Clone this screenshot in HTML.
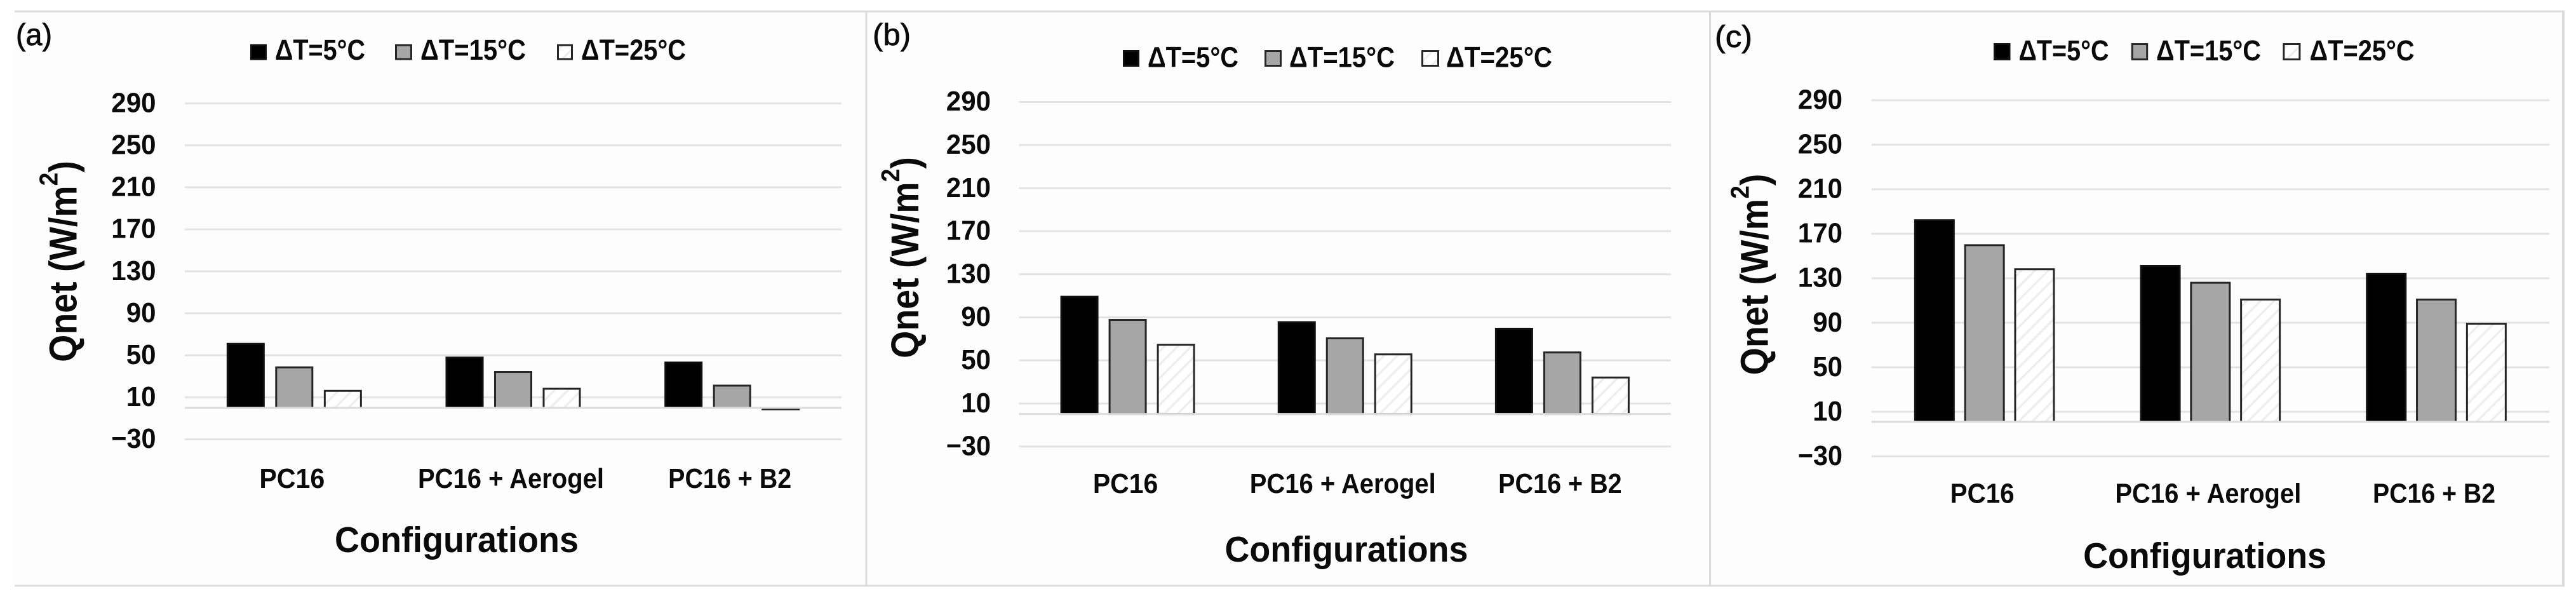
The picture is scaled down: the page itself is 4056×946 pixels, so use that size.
<!DOCTYPE html>
<html lang="en">
<head>
<meta charset="utf-8">
<title>Qnet by configuration</title>
<style>
html,body{margin:0;padding:0;background:#fff;width:4056px;height:946px;overflow:hidden}
svg{display:block}
text{font-family:"Liberation Sans",sans-serif;fill:#0a0a0a}
</style>
</head>
<body>
<svg id="figure" xmlns="http://www.w3.org/2000/svg" width="4056" height="946" viewBox="0 0 4056 946">
  <defs>
    <pattern id="hatch" patternUnits="userSpaceOnUse" width="15" height="15" patternTransform="rotate(45)">
      <rect width="15" height="15" fill="#ffffff"/>
      <rect x="0" y="0" width="3.5" height="15" fill="#eeeeee"/>
    </pattern>
  </defs>
  <rect width="4056" height="946" fill="#ffffff"/>
  <rect x="23" y="18" width="4013" height="904" fill="#fdfdfd"/>
  <g stroke="#dcdcdc" fill="none">
    <line x1="23" y1="18" x2="4038" y2="18" stroke-width="3"/>
    <line x1="23" y1="922" x2="4038" y2="922" stroke-width="3"/>
    <line x1="1364" y1="18" x2="1364" y2="922" stroke-width="3"/>
    <line x1="2692.5" y1="18" x2="2692.5" y2="922" stroke-width="3"/>
    <line x1="4036" y1="18" x2="4036" y2="922" stroke-width="4"/>
  </g>
  <g id="charts"></g>
</svg>
<script>
const categories = ["PC16", "PC16 + Aerogel", "PC16 + B2"];
const seriesNames = ["ΔT=5°C", "ΔT=15°C", "ΔT=25°C"];
const yTicks = [290, 250, 210, 170, 130, 90, 50, 10, -30];
const yTickLabels = ["290", "250", "210", "170", "130", "90", "50", "10", "−30"];

const panelAValues = [
  [61.8, 48.7, 44],
  [39.4, 35, 22],
  [17, 19, -1.5]
];
const panelBValues = [
  [110, 86.4, 80.3],
  [88.5, 71.4, 58.3],
  [65.4, 56.5, 35]
];
const panelCValues = [
  [183, 142, 134.7],
  [160.6, 126.8, 111.7],
  [139, 111.7, 90]
];

const panelLayouts = [
  {id:"a", label:"(a)", values:panelAValues, labelX:25, labelY:71, labelW:57,
   plotL:291, plotR:1325, yTop:162.7, yBot:691.4, baseY:642, barW:60, step:76.5, tickR:245.5,
   catY:768, catTextW:[103,293,194], xTitleX:719, xTitleY:869, xTitleW:384, yTitleX:120.5, yTitleY:411.5,
   legendSw:[[394,26],[622,27],[877,25]], legendTx:[[433,142],[662,166],[915,165]], swT:69.5, swB:94.5, legendY:94},
  {id:"b", label:"(b)", values:panelBValues, labelX:1374, labelY:71, labelW:60,
   plotL:1604.5, plotR:2631, yTop:160.5, yBot:702.9, baseY:651.6, barW:60, step:76, tickR:1560,
   catY:776, catTextW:[102.5,293,194.5], xTitleX:2120, xTitleY:884, xTitleW:383, yTitleX:1446, yTitleY:405.5,
   legendSw:[[1768,26],[1991,27],[2238,28]], legendTx:[[1807,143],[2030,166],[2277,167]], swT:79, swB:105, legendY:105.5},
  {id:"c", label:"(c)", values:panelCValues, labelX:2700, labelY:74, labelW:59,
   plotL:2946.8, plotR:4013.9, yTop:157.8, yBot:718.2, baseY:664, barW:64, step:78.8, tickR:2901,
   catY:791.5, catTextW:[101,293,193], xTitleX:3471.6, xTitleY:894, xTitleW:383, yTitleX:2783.6, yTitleY:432,
   legendSw:[[3139,26.5],[3355.7,26.5],[3594.4,28]], legendTx:[[3178.5,142],[3395,165],[3636.6,165]], swT:68, swB:95, legendY:95}
];

const SVGNS = "http://www.w3.org/2000/svg";
const root = document.getElementById("charts");

function make(parent, tag, props, content) {
  const node = document.createElementNS(SVGNS, tag);
  for (const key in props) node.setAttribute(key, props[key]);
  if (content !== undefined) node.textContent = content;
  parent.appendChild(node);
  return node;
}

const seriesStyles = [
  {fill:"#000000", stroke:"#111111"},
  {fill:"#a6a6a6", stroke:"#262626"},
  {fill:"url(#hatch)", stroke:"#262626"}
];
const SW = 3;

panelLayouts.forEach(function (p) {
  const g = make(root, "g", {});
  
  

  const unit = (p.yBot - p.yTop) / (yTicks[0] - yTicks[yTicks.length - 1]);
  const yScale = function (v) { return p.yTop + (yTicks[0] - v) * unit; };
  const catW = (p.plotR - p.plotL) / categories.length;
  const xCenter = function (i) { return p.plotL + catW * (i + 0.5); };
  const xBar = function (i, s) { return xCenter(i) + (s - (seriesNames.length - 1) / 2) * p.step - p.barW / 2; };

  const panelLabel = make(g, "text", {x:p.labelX, y:p.labelY, "font-size":48, textLength:p.labelW, lengthAdjust:"spacingAndGlyphs", stroke:"#0a0a0a", "stroke-width":0.8}, p.label);
  
  

  yTicks.forEach(function (t, i) {
    const grid = make(g, "line", {x1:p.plotL, x2:p.plotR, y1:yScale(t), y2:yScale(t), stroke:"#e3e3e3", "stroke-width":3});
    
    
    const tick = make(g, "text", {x:p.tickR, y:yScale(t) + 13.7, "font-size":44, "font-weight":"bold", "text-anchor":"end", textLength:yTickLabels[i].length * 23.4, lengthAdjust:"spacingAndGlyphs"}, yTickLabels[i]);
    
    
  });

  seriesNames.forEach(function (name, s) {
    categories.forEach(function (cat, i) {
      const v = p.values[s][i];
      const edge = yScale(v);
      const top = Math.min(edge, p.baseY);
      const h = Math.abs(edge - p.baseY);
      const bar = make(g, "rect", {x:xBar(i, s) + SW / 2, y:top + SW / 2, width:p.barW - SW, height:Math.max(h - SW / 2, 0.5), fill:seriesStyles[s].fill, stroke:seriesStyles[s].stroke, "stroke-width":SW});
      
      
    });
  });

  const axis = make(g, "line", {x1:p.plotL, x2:p.plotR, y1:p.baseY, y2:p.baseY, stroke:"#dcdcdc", "stroke-width":3});
  
  

  categories.forEach(function (cat, i) {
    const cl = make(g, "text", {x:xCenter(i) - 3.5, y:p.catY, "font-size":44, "font-weight":"bold", "text-anchor":"middle", textLength:p.catTextW[i], lengthAdjust:"spacingAndGlyphs"}, cat);
    
    
  });

  const xt = make(g, "text", {x:p.xTitleX, y:p.xTitleY, "font-size":57, "font-weight":"bold", "text-anchor":"middle", textLength:p.xTitleW, lengthAdjust:"spacingAndGlyphs"}, "Configurations");
  
  

  const yt = make(g, "text", {transform:"translate(" + p.yTitleX + "," + p.yTitleY + ") rotate(-90) scale(0.91,1)", "font-size":61, "font-weight":"bold", "text-anchor":"middle"});
  
  
  make(yt, "tspan", {}, "Qnet (W/m");
  make(yt, "tspan", {dy:-30, "font-size":41}, "2");
  make(yt, "tspan", {dy:30}, ")");

  seriesNames.forEach(function (name, s) {
    const entry = make(g, "g", {});
    
    
    const sw = make(entry, "rect", {x:p.legendSw[s][0] + SW / 2, y:p.swT + SW / 2, width:p.legendSw[s][1] - SW, height:p.swB - p.swT - SW, fill:seriesStyles[s].fill, stroke:seriesStyles[s].stroke, "stroke-width":SW});
    
    
    const lt = make(entry, "text", {x:p.legendTx[s][0], y:p.legendY, "font-size":45, "font-weight":"bold", textLength:p.legendTx[s][1], lengthAdjust:"spacingAndGlyphs"}, name);
    
    
  });
});
</script>
</body>
</html>
